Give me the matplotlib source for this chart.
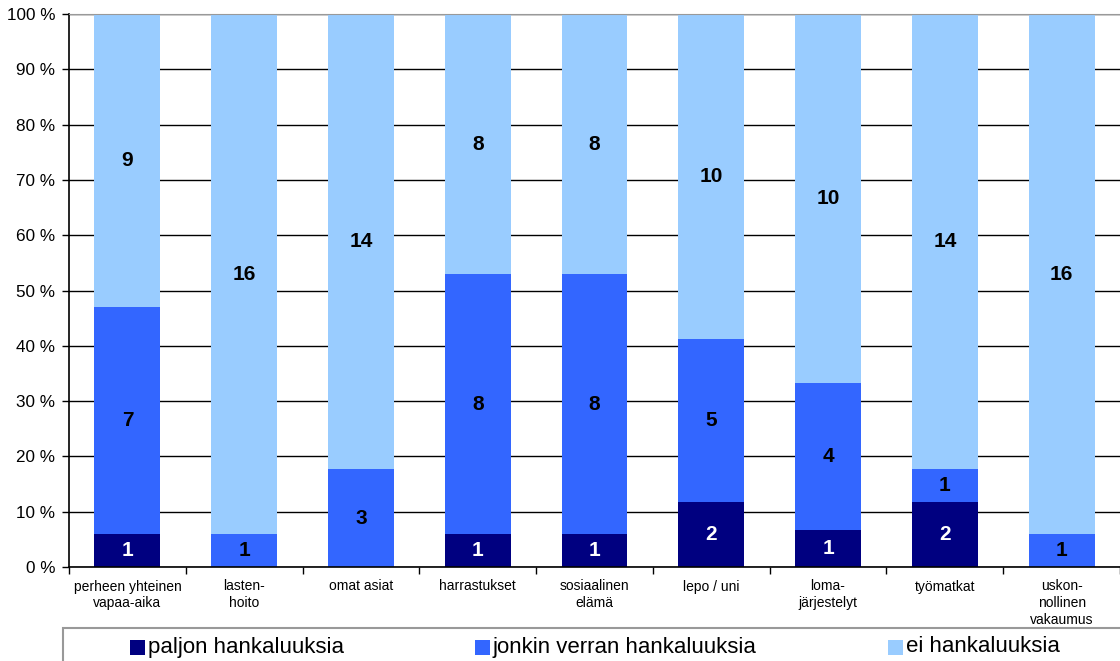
import numpy as np
import matplotlib.pyplot as plt
from matplotlib.ticker import FixedLocator
from matplotlib.patches import Rectangle

plt.rcParams['font.family'] = ['Liberation Sans', 'DejaVu Sans']

# Data: counts per category
kategoriat = ['perheen yhteinen\nvapaa-aika', 'lasten-\nhoito', 'omat asiat',
              'harrastukset', 'sosiaalinen\nelämä', 'lepo / uni',
              'loma-\njärjestelyt', 'työmatkat', 'uskon-\nnollinen\nvakaumus']
paljon = [1, 0, 0, 1, 1, 2, 1, 2, 0]
jonkin = [7, 1, 3, 8, 8, 5, 4, 1, 1]
ei = [9, 16, 14, 8, 8, 10, 10, 14, 16]
sarjat = ['paljon hankaluuksia', 'jonkin verran hankaluuksia', 'ei hankaluuksia']
varit = ['#000080', '#3366FF', '#99CCFF']
tekstivarit = ['white', 'black', 'black']

data = np.array([paljon, jonkin, ei], dtype=float)
osuus = data / data.sum(axis=0) * 100

W, H = 1120, 661
fig = plt.figure(figsize=(W / 100, H / 100), dpi=100)
ax = fig.add_axes([69/W, 1 - 567/H, 1 - 69/W, (567 - 14)/H])

x = np.arange(len(kategoriat))
pohja = np.zeros(len(kategoriat))
for i in range(3):
    ax.bar(x, osuus[i], 0.565, bottom=pohja, color=varit[i], label=sarjat[i], zorder=2)
    for j in range(len(kategoriat)):
        if data[i, j] > 0:
            ax.text(x[j], pohja[j] + osuus[i, j] / 2, '%d' % data[i, j],
                    ha='center', va='center', fontsize=15, fontweight='bold',
                    color=tekstivarit[i], zorder=3)
    pohja += osuus[i]

ax.set_xlim(-0.5, len(kategoriat) - 0.5)
ax.set_ylim(0, 100)
ax.set_yticks(np.arange(0, 101, 10))
ax.set_yticklabels(['%d %%' % v for v in range(0, 101, 10)], fontsize=12.3)
ax.yaxis.grid(True, color='black', linewidth=1, zorder=1)
ax.set_axisbelow(True)

ax.set_xticks(x)
ax.set_xticklabels(kategoriat, fontsize=10, linespacing=1.25)
ax.tick_params(axis='x', which='major', length=0, pad=9)
ax.xaxis.set_minor_locator(FixedLocator(np.arange(-0.5, len(kategoriat), 1.0)))
ax.tick_params(axis='x', which='minor', length=5, width=1)
ax.tick_params(axis='y', length=5, width=1, pad=5)

ax.spines['right'].set_visible(False)
ax.spines['top'].set_color('#999999')
ax.spines['left'].set_linewidth(1.2)
ax.spines['bottom'].set_linewidth(1.2)

# Legend drawn by hand as a box at the bottom
fig.patches.append(Rectangle((63/W, -0.05), 1.1, (661 - 628)/H + 0.05,
                             transform=fig.transFigure, facecolor='white',
                             edgecolor='#999999', linewidth=1.5))
leg_x = [130, 475, 888]
for k in range(3):
    fig.patches.append(Rectangle((leg_x[k]/W, 1 - 655/H), 15/W, 15/H,
                                 transform=fig.transFigure, facecolor=varit[k],
                                 edgecolor='none'))
    fig.text((leg_x[k] + 18)/W, 1 - 647/H, sarjat[k], fontsize=16,
             ha='left', va='center')

fig.savefig('out.png', dpi=100)
